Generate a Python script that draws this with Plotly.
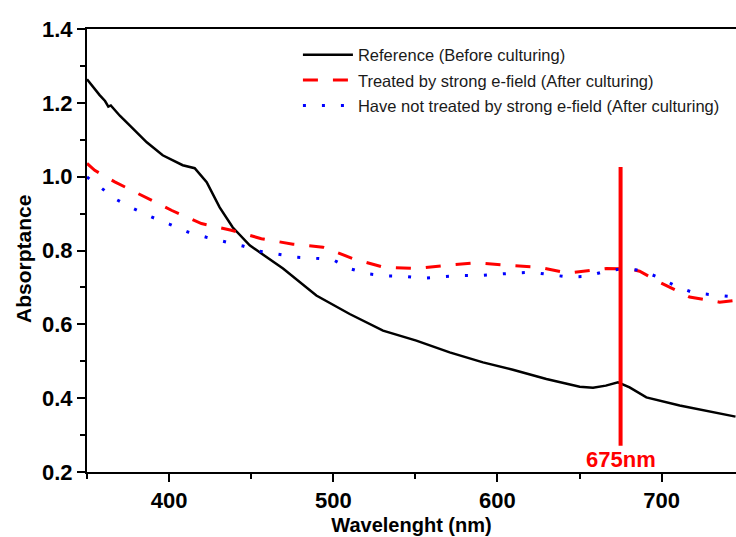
import plotly.graph_objects as go

# Reference (Before culturing) - black solid
ref_wl = [350, 354, 357.7, 361, 363, 364.5, 366.5, 370, 376, 386.4, 396.1, 408.3, 415.6, 422.9,
          430.8, 438.7, 449.1, 469.4, 489.7, 510, 530.3, 550.6, 570.9, 591.2, 609.4, 629.8,
          650.1, 658.2, 666, 673.4, 680.5, 690.7, 711, 731.2, 745]
ref_ab = [1.264, 1.24, 1.221, 1.205, 1.19, 1.193, 1.182, 1.165, 1.139, 1.093, 1.058, 1.031, 1.023, 0.985,
          0.917, 0.863, 0.814, 0.751, 0.678, 0.628, 0.583, 0.556, 0.524, 0.497, 0.477, 0.452,
          0.431, 0.428, 0.434, 0.443, 0.429, 0.402, 0.380, 0.361, 0.350]

# Treated by strong e-field (After culturing) - red dashed
trt_wl = [350, 354.7, 366.9, 383, 401.4, 419.7, 437.9, 456.2, 475.5, 493.7, 512, 530.3, 550.6,
          568.9, 587.2, 606.4, 624.7, 643, 662.2, 666.3, 680.5, 686.6, 698.8, 717, 735.3, 745]
trt_ab = [1.036, 1.017, 0.986, 0.950, 0.909, 0.873, 0.855, 0.832, 0.817, 0.809, 0.778, 0.755, 0.751,
          0.760, 0.767, 0.760, 0.755, 0.739, 0.748, 0.751, 0.750, 0.744, 0.714, 0.674, 0.660, 0.665]

# Have not treated by strong e-field (After culturing) - blue dotted
unt_wl = [350, 358.8, 367.9, 378.6, 389.2, 400.4, 411.5, 422.7, 433.9, 445, 455.2, 466.3, 477.5,
          488.7, 499.8, 510, 521.1, 532.3, 543.5, 554.6, 565.8, 577, 588.1, 599.3, 610.5, 621.2,
          632.4, 643.5, 654.7, 665.9, 676.9, 687.6, 698.8, 709, 719.7, 730.6, 745]
unt_ab = [0.999, 0.968, 0.938, 0.913, 0.891, 0.871, 0.850, 0.836, 0.823, 0.812, 0.798, 0.789, 0.782,
          0.779, 0.775, 0.751, 0.737, 0.731, 0.730, 0.725, 0.728, 0.732, 0.732, 0.736, 0.739, 0.741,
          0.734, 0.728, 0.730, 0.744, 0.751, 0.746, 0.726, 0.703, 0.685, 0.681, 0.674]

names = ["Reference (Before culturing)",
         "Treated by strong e-field (After culturing)",
         "Have not treated by strong e-field (After culturing)"]

peak_wl = 675
peak_line = [0.271, 1.026]
peak_label = "675nm"

x_ticks = [400, 500, 600, 700]
y_ticks = [0.2, 0.4, 0.6, 0.8, 1.0, 1.2, 1.4]

FONT = "Liberation Sans, Arial, sans-serif"

fig = go.Figure()
fig.add_trace(go.Scatter(x=ref_wl, y=ref_ab, mode="lines", name=names[0], legendgroup="a",
                         line=dict(color="#000000", width=2.5)))
fig.add_trace(go.Scatter(x=trt_wl, y=trt_ab, mode="lines", name=names[1], legendgroup="b",
                         line=dict(color="#ff0000", width=3, dash="15px,15px")))
fig.add_trace(go.Scatter(x=unt_wl, y=unt_ab, mode="lines", name=names[2], legendgroup="c",
                         line=dict(color="#0000ff", width=3, dash="3px,16px")))

fig.add_shape(type="line", x0=peak_wl, x1=peak_wl, y0=peak_line[0], y1=peak_line[1],
              xref="x", yref="y", line=dict(color="#ff0000", width=4))
fig.add_annotation(x=peak_wl, y=0.233, xref="x", yref="y", text=peak_label, showarrow=False,
                   font=dict(family=FONT, size=22, color="#ff0000", weight="bold"))

# y-axis title as annotation for exact placement
fig.add_annotation(x=-63.5 / 649, y=1 - (259.5 - 29) / 443, xref="paper", yref="paper",
                   text="Absorptance", textangle=-90, showarrow=False,
                   xanchor="center", yanchor="middle",
                   font=dict(family=FONT, size=21, weight="bold", color="#000"))

fig.update_layout(
    width=736, height=537,
    margin=dict(l=87, r=0, t=29, b=65, autoexpand=False),
    paper_bgcolor="white", plot_bgcolor="white",
    font=dict(family=FONT, color="#000000"),
    showlegend=True,
    legend=dict(x=0.325, y=0.981, xanchor="left", yanchor="top",
                font=dict(family=FONT, size=16.5, color="#1a1a1a"),
                bgcolor="rgba(255,255,255,0)", itemwidth=50,
                traceorder="grouped", tracegroupgap=1),
)
fig.update_xaxes(
    range=[350, 745.3], tickmode="array", tickvals=x_ticks,
    ticks="outside", ticklen=8, tickwidth=2, tickcolor="#000",
    showline=True, linewidth=2, linecolor="#000", mirror=True,
    showgrid=False, zeroline=False, automargin=False,
    tickfont=dict(family=FONT, size=22, weight="bold"),
    minor=dict(dtick=50, tick0=350, ticks="outside", ticklen=5, tickwidth=2, tickcolor="#000", showgrid=False),
    title=dict(text="Wavelenght (nm)", font=dict(family=FONT, size=20, weight="bold"), standoff=6),
)
fig.update_yaxes(
    range=[0.2, 1.4], tickmode="array", tickvals=y_ticks, ticktext=[f"{v:.1f}" for v in y_ticks],
    ticks="outside", ticklen=8, tickwidth=2, tickcolor="#000",
    showline=True, linewidth=2, linecolor="#000", mirror=False,
    showgrid=False, zeroline=False, automargin=False,
    tickfont=dict(family=FONT, size=22, weight="bold"),
    minor=dict(dtick=0.1, tick0=0.2, ticks="outside", ticklen=5, tickwidth=2, tickcolor="#000", showgrid=False),
)

fig.write_html("out.html", config={"displayModeBar": False},
               post_script="document.body.style.margin='0';document.documentElement.style.overflow='hidden';")
